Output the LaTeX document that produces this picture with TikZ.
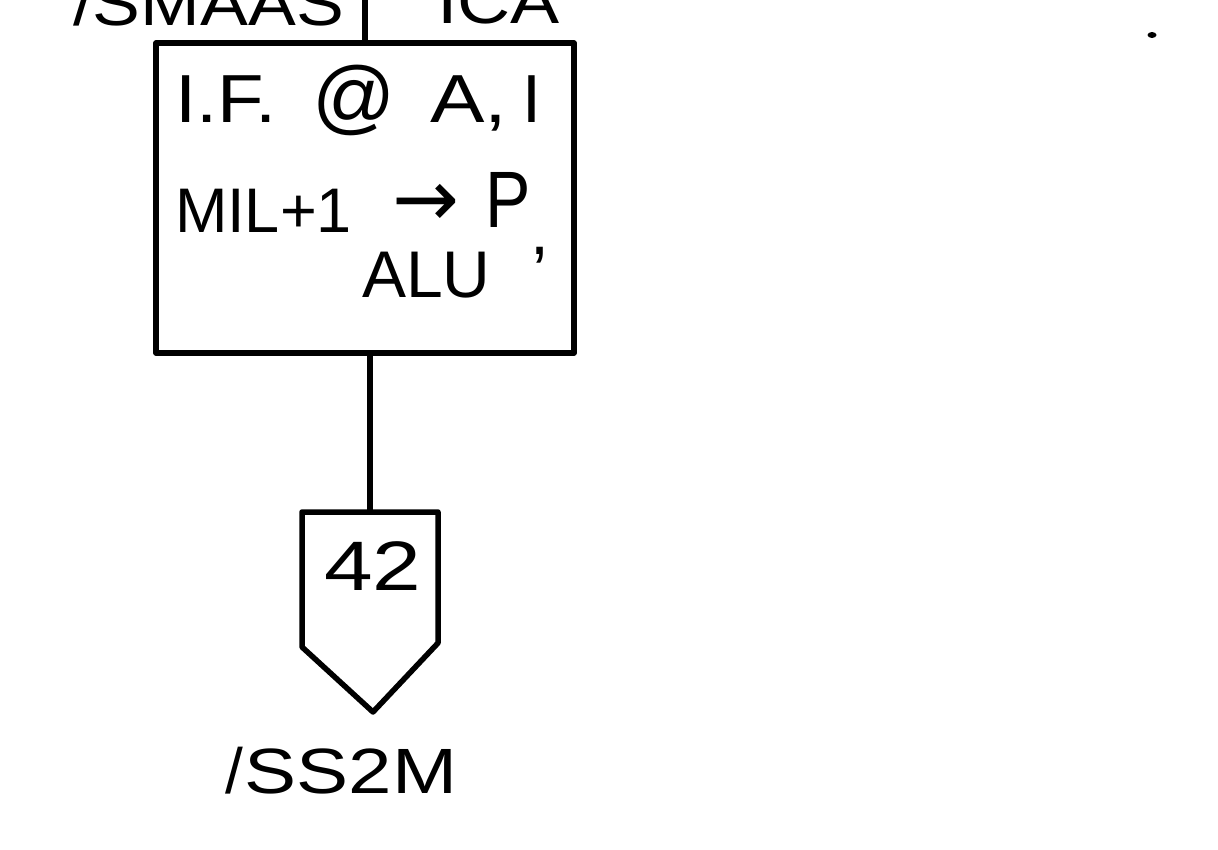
\documentclass[tikz,border=0pt]{standalone}
\usepackage{fontspec}
\setmainfont{Liberation Sans}
\newfontfamily\arrowfont{DejaVu Sans}
\tikzset{
  ink/.style={line width=5.5pt, line join=round, line cap=round},
  hand/.style={inner sep=0pt, outer sep=0pt, anchor=base west, text=black},
  procbox/.style={draw, ink, rectangle, inner sep=0pt, outer sep=0pt, minimum width=418pt, minimum height=310pt},
}
\begin{document}
\begin{tikzpicture}[x=1pt,y=-1pt]
\useasboundingbox (0,0) rectangle (1218,849);
\clip (0,0) rectangle (1218,849);
% top labels (cut off at the upper edge)
\node[hand, font=\fontsize{64}{64}\selectfont] (lbltopl) at (73,25) {\scalebox{1.12}[1]{/SMAAS}};
\node[hand, font=\fontsize{64}{64}\selectfont] (lbltopr) at (437,23) {\scalebox{1.15}[1]{ICA}};
% process box
\node[procbox] (box) at (365,198) {};
\node[hand, font=\fontsize{68}{68}\selectfont] (t1a) at (175,122) {\scalebox{1.12}[1]{I.F.}};
\node[hand, font=\fontsize{82}{82}\selectfont] (t1b) at (312,124) {@};
\node[hand, font=\fontsize{68}{68}\selectfont] (t1c) at (430,122) {\scalebox{1.2}[1]{A,}};
\node[hand, font=\fontsize{68}{68}\selectfont] (t1d) at (522,122) {I};
\node[hand, font=\fontsize{63}{63}\selectfont] (t2a) at (175,232) {MIL+1};
\node[inner sep=0pt, font=\arrowfont\fontsize{80}{80}\selectfont] (t2b) at (426,205) {→};
\node[hand, font=\fontsize{80}{80}\selectfont] (t2c) at (485,227) {\scalebox{0.85}[1]{P}};
\node[hand, font=\fontsize{68}{68}\selectfont] (t2d) at (530,254) {,};
\node[hand, font=\fontsize{66}{66}\selectfont] (t3) at (362,297) {ALU};
% off-page connector
\coordinate (pt) at (370,512);
\draw[ink] (302,512) coordinate (pl) -- (438,512) coordinate (pr) -- (438,643) -- (373,712) coordinate (pb) -- (302,647) -- cycle;
\node[inner sep=0pt, font=\fontsize{70}{70}\selectfont] (num) at (373,566) {\scalebox{1.25}[1]{42}};
\node[hand, font=\fontsize{64}{64}\selectfont] (lblbot) at (225,793) {/\kern2pt\scalebox{1.22}[1]{SS2M}};
% connectors
\coordinate (topend) at (365,0);
\draw[ink] (box.north) -- (topend);
\draw[ink] (box.south -| pt) -- (pt);
% stray dot
\fill (1152,35) ellipse (4.5pt and 3pt);
\end{tikzpicture}
\end{document}
